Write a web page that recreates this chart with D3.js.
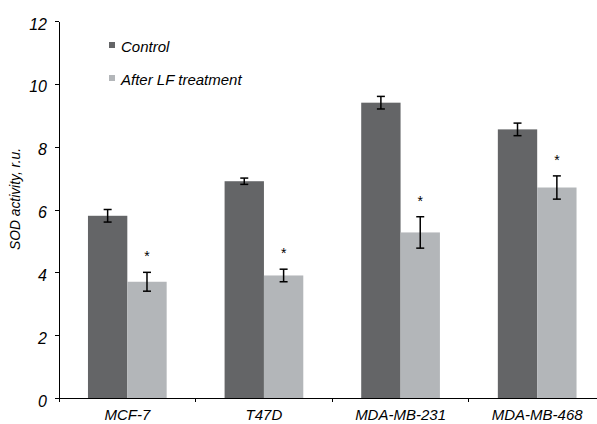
<!DOCTYPE html>
<html>
<head>
<meta charset="utf-8">
<script src="https://cdn.jsdelivr.net/npm/d3@7"></script>
<style>
  body { margin: 0; background: #fff; }
  svg { display: block; font-family: "Liberation Sans", Arial, sans-serif; font-style: italic; }
  .axis path, .axis line { stroke: #000; shape-rendering: crispEdges; }
  .axis text { font-family: "Liberation Sans", Arial, sans-serif; font-style: italic; font-size: 15px; fill: #000; }
  .axis.y text { font-size: 16px; }
</style>
</head>
<body>
<div id="chart"></div>
<script>
// data
var cellLines = ['MCF-7', 'T47D', 'MDA-MB-231', 'MDA-MB-468'];
var seriesNames = ['Control', 'After LF treatment'];
var controlValues = [5.8, 6.9, 9.4, 8.55];
var controlErrors = [0.2, 0.1, 0.2, 0.2];
var lfValues = [3.7, 3.9, 5.27, 6.7];
var lfErrors = [0.3, 0.2, 0.5, 0.37];
var significance = ['*', '*', '*', '*'];
var yTicks = [0, 2, 4, 6, 8, 10, 12];

var colors = ['#646567', '#b3b6b9'];

var width = 597;
var height = 424;

var svg = d3.select('#chart').append('svg')
    .attr('width', width)
    .attr('height', height);

var x0 = d3.scaleBand()
    .domain(cellLines)
    .range([59, 605.5])
    .paddingInner(0.424)
    .paddingOuter(0.212);

var x1 = d3.scaleBand()
    .domain(seriesNames)
    .range([0, x0.bandwidth()]);

var y = d3.scaleLinear()
    .domain([0, 12])
    .range([398, 21]);

// y axis
var yAxis = d3.axisLeft(y)
    .tickValues(yTicks)
    .tickSize(4)
    .tickPadding(8)
    .tickSizeOuter(0);

svg.append('g')
    .attr('class', 'axis y')
    .attr('transform', 'translate(59, 0)')
    .call(yAxis)
    .selectAll('text')
    .attr('dy', '0.5em');

// x axis: line + ticks at group boundaries
var halfGap = x0.step() * x0.paddingInner() / 2;
var bounds = cellLines.map(function (c) { return x0(c) - halfGap; });

var xg = svg.append('g').attr('class', 'axis x');
xg.append('line')
    .attr('x1', 55).attr('x2', width)
    .attr('y1', y(0)).attr('y2', y(0));
xg.selectAll('line.tick')
    .data(bounds)
    .enter().append('line')
    .attr('class', 'tick')
    .attr('x1', function (d) { return d; })
    .attr('x2', function (d) { return d; })
    .attr('y1', y(0))
    .attr('y2', y(0) + 4);
xg.selectAll('text')
    .data(cellLines)
    .enter().append('text')
    .attr('x', function (d) { return x0(d) + x0.bandwidth() / 2; })
    .attr('y', 420)
    .attr('text-anchor', 'middle')
    .text(function (d) { return d; });

// bars
var rows = cellLines.map(function (c, i) {
    return [
        { cat: c, s: seriesNames[0], v: controlValues[i], e: controlErrors[i], color: colors[0] },
        { cat: c, s: seriesNames[1], v: lfValues[i], e: lfErrors[i], color: colors[1] }
    ];
});

var groups = svg.selectAll('g.group')
    .data(rows)
    .enter().append('g')
    .attr('class', 'group')
    .attr('transform', function (d) { return 'translate(' + x0(d[0].cat) + ', 0)'; });

groups.selectAll('rect')
    .data(function (d) { return d; })
    .enter().append('rect')
    .attr('x', function (d) { return x1(d.s); })
    .attr('y', function (d) { return y(d.v); })
    .attr('width', x1.bandwidth())
    .attr('height', function (d) { return y(0) - y(d.v); })
    .attr('fill', function (d) { return d.color; });

// error bars
var err = groups.selectAll('g.err')
    .data(function (d) { return d; })
    .enter().append('g')
    .attr('class', 'err')
    .attr('stroke', '#000')
    .attr('stroke-width', 1.5);

err.append('line')
    .attr('x1', function (d) { return x1(d.s) + x1.bandwidth() / 2; })
    .attr('x2', function (d) { return x1(d.s) + x1.bandwidth() / 2; })
    .attr('y1', function (d) { return y(d.v + d.e); })
    .attr('y2', function (d) { return y(d.v - d.e); });
err.selectAll('line.cap')
    .data(function (d) { return [d.v + d.e, d.v - d.e].map(function (v) { return { s: d.s, v: v }; }); })
    .enter().append('line')
    .attr('class', 'cap')
    .attr('x1', function (d) { return x1(d.s) + x1.bandwidth() / 2 - 4; })
    .attr('x2', function (d) { return x1(d.s) + x1.bandwidth() / 2 + 4; })
    .attr('y1', function (d) { return y(d.v); })
    .attr('y2', function (d) { return y(d.v); });

// significance stars over the LF bars
svg.selectAll('text.star')
    .data(cellLines)
    .enter().append('text')
    .attr('class', 'star')
    .attr('x', function (d) { return x0(d) + x1(seriesNames[1]) + x1.bandwidth() / 2; })
    .attr('y', function (d, i) { return y(lfValues[i] + lfErrors[i]) - 11; })
    .attr('text-anchor', 'middle')
    .attr('font-size', 14)
    .attr('font-style', 'normal')
    .text(function (d, i) { return significance[i]; });

// legend
var legend = svg.selectAll('g.legend')
    .data(seriesNames)
    .enter().append('g')
    .attr('class', 'legend')
    .attr('transform', function (d, i) { return 'translate(109, ' + (52 + i * 33) + ')'; });
legend.append('rect')
    .attr('x', 0).attr('y', -10)
    .attr('width', 6).attr('height', 6)
    .attr('fill', function (d, i) { return colors[i]; });
legend.append('text')
    .attr('x', 12).attr('y', 0)
    .attr('font-size', 15)
    .text(function (d) { return d; });

// y title
svg.append('text')
    .attr('transform', 'translate(20, 199) rotate(-90)')
    .attr('text-anchor', 'middle')
    .attr('font-size', 14.5)
    .attr('textLength', 102)
    .attr('lengthAdjust', 'spacingAndGlyphs')
    .text('SOD activity, r.u.');
</script>
</body>
</html>
